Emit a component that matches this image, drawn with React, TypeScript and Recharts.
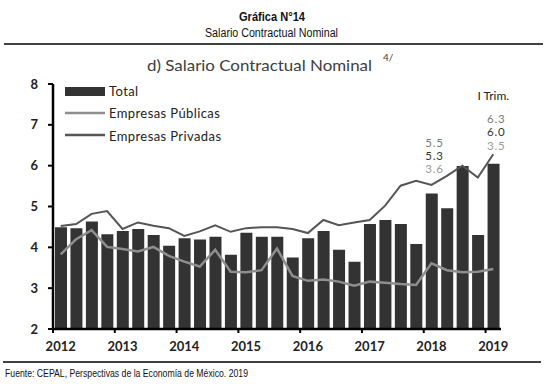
import React from "react";
import {
  ComposedChart,
  Bar,
  Line,
  XAxis,
  YAxis,
  ReferenceDot,
} from "recharts";

// quarterly data, 2012 Q1 .. 2019 Q1
const years = [2012, 2013, 2014, 2015, 2016, 2017, 2018, 2019];
const total = [
  4.49, 4.47, 4.63, 4.32, 4.4, 4.45, 4.3, 4.04, 4.22, 4.19, 4.26, 3.82, 4.36, 4.26, 4.26,
  3.75, 4.22, 4.4, 3.94, 3.65, 4.57, 4.67, 4.57, 4.08, 5.32, 4.96, 5.99, 4.3, 6.05,
];
const publicas = [
  3.83, 4.2, 4.42, 4.01, 3.96, 3.9, 4.01, 3.79, 3.65, 3.53, 3.94, 3.4, 3.39, 3.44, 3.97,
  3.3, 3.18, 3.21, 3.16, 3.06, 3.16, 3.13, 3.1, 3.08, 3.61, 3.44, 3.39, 3.4, 3.47,
];
const privadas = [
  4.52, 4.57, 4.82, 4.89, 4.45, 4.61, 4.53, 4.47, 4.28, 4.39, 4.54, 4.38, 4.47, 4.49, 4.49,
  4.45, 4.35, 4.67, 4.54, 4.61, 4.67, 5.02, 5.51, 5.63, 5.53, 5.75, 6.0, 5.71, 6.28,
];
const yTicks = [2, 3, 4, 5, 6, 7, 8];

const annotations = [
  { idx: 24, header: "", labels: ["5.5", "5.3", "3.6"], dy: -16 },
  { idx: 28, header: "I Trim.", labels: ["6.3", "6.0", "3.5"], dy: -9 },
];

const data = total.map((t, i) => ({
  x: i + 0.5,
  total: t,
  publicas: publicas[i],
  privadas: privadas[i],
}));

const colors = {
  total: "#333333",
  publicas: "#8e8e8e",
  privadas: "#555555",
};
const labelColors = ["#7a7a7a", "#333333", "#9a9a9a"];

const chartFont = "Lato, 'Open Sans', sans-serif";
const narrowFont = "'Liberation Sans', Arial, sans-serif";

const YearTick = (props: any) => {
  const { x, y, payload } = props;
  const label = years[Math.round(payload.value / 4)];
  return (
    <text
      x={x + 7.7}
      y={y}
      dy="0.71em"
      textAnchor="middle"
      fontFamily={chartFont}
      fontSize={13}
      fontWeight={700}
      fill="#222"
    >
      {label}
    </text>
  );
};

const Annotation = (cx: number, cy: number, header: string, labels: string[], dy: number) => (
  <g>
    {header && (
      <text
        x={cx}
        y={cy + dy - 3 * 13.3 - 10}
        textAnchor="middle"
        fontFamily={chartFont}
        fontSize={12}
        fill="#222"
        dominantBaseline="central"
      >
        {header}
      </text>
    )}
    {labels.map((l, i) => (
      <text
        key={l + i}
        x={cx + 3}
        y={cy + dy - (labels.length - 1 - i) * 13.3}
        textAnchor="middle"
        fontFamily={chartFont}
        fontSize={11.5}
        letterSpacing={0.8}
        fill={labelColors[i]}
        dominantBaseline="central"
      >
        {l}
      </text>
    ))}
  </g>
);

export default function App() {
  return (
    <div
      style={{
        position: "absolute",
        left: 0,
        top: 0,
        width: 549,
        height: 384,
        background: "#fff",
        overflow: "hidden",
      }}
    >
      <svg width={549} height={384} style={{ position: "absolute", left: 0, top: 0 }}>
        <text
          x={239}
          y={20.5}
          fontFamily={narrowFont}
          fontSize={12.5}
          fontWeight={700}
          fill="#111"
          textLength={66}
          lengthAdjust="spacingAndGlyphs"
        >
          Gráfica N°14
        </text>
        <text
          x={205}
          y={37}
          fontFamily={narrowFont}
          fontSize={12.5}
          fill="#111"
          textLength={133}
          lengthAdjust="spacingAndGlyphs"
        >
          Salario Contractual Nominal
        </text>
        <line x1={4} x2={543} y1={44} y2={44} stroke="#000" strokeWidth={1.5} />
        <text
          x={147}
          y={71}
          fontFamily={chartFont}
          fontSize={16}
          fill="#404040"
          textLength={225}
          lengthAdjust="spacingAndGlyphs"
        >
          d) Salario Contractual Nominal
        </text>
        <text x={383} y={61} fontFamily={chartFont} fontSize={10} fill="#404040">
          4/
        </text>

        {/* legend */}
        <rect x={65} y={87} width={40} height={9} fill={colors.total} />
        <text x={109} y={95.5} fontFamily={chartFont} fontSize={13} fill="#222" letterSpacing={0.4}>
          Total
        </text>
        <line x1={65} x2={105} y1={113} y2={113} stroke={colors.publicas} strokeWidth={2.5} />
        <text x={109} y={118} fontFamily={chartFont} fontSize={13} fill="#222" letterSpacing={0.4}>
          Empresas Públicas
        </text>
        <line x1={65} x2={105} y1={135} y2={135} stroke={colors.privadas} strokeWidth={2.5} />
        <text x={109} y={140.5} fontFamily={chartFont} fontSize={13} fill="#222" letterSpacing={0.4}>
          Empresas Privadas
        </text>

        <line x1={3} x2={541} y1={362} y2={362} stroke="#000" strokeWidth={1.5} />
        <text
          x={5}
          y={376.5}
          fontFamily={narrowFont}
          fontSize={10.5}
          fill="#111"
          textLength={243}
          lengthAdjust="spacingAndGlyphs"
        >
          Fuente: CEPAL, Perspectivas de la Economía de México. 2019
        </text>
      </svg>

      <div style={{ position: "absolute", left: 0, top: 0 }}>
        <ComposedChart
          width={549}
          height={384}
          data={data}
          margin={{ top: 84, right: 48, bottom: 25, left: 13 }}
        >
          <XAxis
            type="number"
            dataKey="x"
            domain={[0, 29]}
            ticks={years.map((_, i) => i * 4)}
            interval={0}
            height={30}
            axisLine={{ stroke: "#000", strokeWidth: 2.5 }}
            tickLine={{ stroke: "#000", strokeWidth: 2 }}
            tickSize={4}
            tickMargin={9}
            tick={<YearTick />}
          />
          <YAxis
            domain={[2, 8]}
            ticks={yTicks}
            interval={0}
            width={40}
            axisLine={{ stroke: "#000", strokeWidth: 2.5 }}
            tickLine={{ stroke: "#000", strokeWidth: 2 }}
            tickSize={5}
            tickMargin={10}
            tick={{ fill: "#222", fontSize: 13, fontWeight: 700, fontFamily: chartFont }}
          />
          <Bar dataKey="total" fill={colors.total} barSize={12} isAnimationActive={false} />
          <Line
            type="linear"
            dataKey="privadas"
            stroke={colors.privadas}
            strokeWidth={2}
            dot={false}
            isAnimationActive={false}
          />
          <Line
            type="linear"
            dataKey="publicas"
            stroke={colors.publicas}
            strokeWidth={2.5}
            dot={false}
            isAnimationActive={false}
          />
          {annotations.map((a) => (
            <ReferenceDot
              key={a.idx}
              x={a.idx + 0.5}
              y={privadas[a.idx]}
              r={0}
              ifOverflow="visible"
              shape={(p: any) => Annotation(p.cx, p.cy, a.header, a.labels, a.dy)}
            />
          ))}
        </ComposedChart>
      </div>
    </div>
  );
}
